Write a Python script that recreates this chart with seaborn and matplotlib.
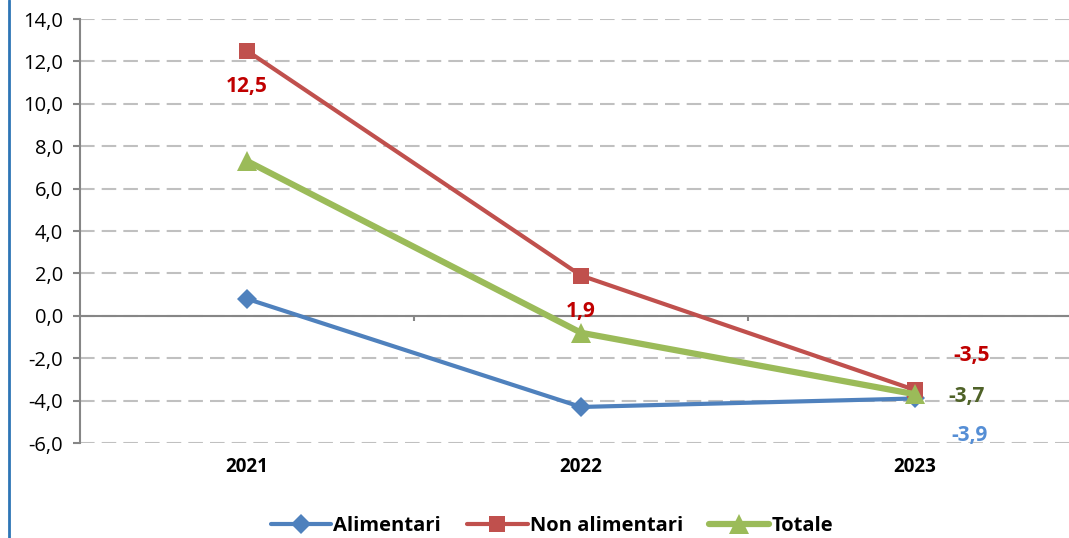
import pandas as pd
import matplotlib.pyplot as plt
import seaborn as sns
from matplotlib.lines import Line2D
from matplotlib.ticker import FuncFormatter

# dati
anni = ['2021', '2022', '2023']
alimentari = [0.8, -4.3, -3.9]
non_alimentari = [12.5, 1.9, -3.5]
totale = [7.3, -0.8, -3.7]

serie = ['Alimentari', 'Non alimentari', 'Totale']
colori = {'Alimentari': '#4F81BD', 'Non alimentari': '#C0504D', 'Totale': '#9BBB59'}
marker = {'Alimentari': 'D', 'Non alimentari': 's', 'Totale': '^'}
msize = {'Alimentari': 10, 'Non alimentari': 12, 'Totale': 14}
spessore = {'Alimentari': 3, 'Non alimentari': 3, 'Totale': 4.5}
colori_etichette = {'Alimentari': '#558ED5', 'Non alimentari': '#C00000', 'Totale': '#4F6228'}

df = pd.DataFrame({
    'Anno': anni * 3,
    'Valore': alimentari + non_alimentari + totale,
    'Serie': [s for s in serie for _ in anni],
})

sns.set_style('white')
plt.rcParams['font.family'] = ['Open Sans', 'DejaVu Sans']
plt.rcParams['text.color'] = 'black'
plt.rcParams['xtick.labelcolor'] = 'black'
plt.rcParams['ytick.labelcolor'] = 'black'

fig = plt.figure(figsize=(10.69, 5.38), dpi=100)
ax = fig.add_axes([80 / 1069, 1 - 443 / 538, 1002 / 1069, 424 / 538])

for s in serie:
    sns.lineplot(data=df[df['Serie'] == s], x='Anno', y='Valore', ax=ax,
                 color=colori[s], linewidth=spessore[s], marker=marker[s],
                 markersize=msize[s], markeredgewidth=0, label=s)

ax.set_xlim(-0.5, 2.5)
ax.set_ylim(-6, 14)
ax.set_yticks(range(-6, 15, 2))
ax.yaxis.set_major_formatter(FuncFormatter(lambda v, p: f'{v:.1f}'.replace('.', ',')))
ax.grid(axis='y', color='#C0C0C0', linestyle=(0, (7, 3.4)), linewidth=1.5)
ax.set_axisbelow(True)
ax.axhline(0, color='#868686', linewidth=1.5, zorder=1)
ax.vlines([0.5, 1.5], -0.25, 0, color='#868686', linewidth=1.5, zorder=1)

for lato in ['top', 'right', 'bottom']:
    ax.spines[lato].set_visible(False)
ax.spines['left'].set_color('#868686')
ax.spines['left'].set_linewidth(1.5)
ax.tick_params(axis='y', left=True, length=5, width=1.5, color='#868686',
               labelsize=14.5, pad=7, labelcolor='black')
ax.tick_params(axis='x', length=0, labelsize=13.5, pad=10, labelcolor='black')
for t in ax.get_xticklabels():
    t.set_fontweight('bold')
ax.set_xlabel('')
ax.set_ylabel('')

# etichette dei valori
def etichetta(s, i, dx, dy):
    v = df[(df['Serie'] == s) & (df['Anno'] == anni[i])]['Valore'].iloc[0]
    ax.annotate(f'{v:.1f}'.replace('.', ','), (i, v), xytext=(dx, dy),
                textcoords='offset pixels', ha='center', va='center',
                fontsize=15, fontweight='bold', color=colori_etichette[s])

etichetta('Non alimentari', 0, 0, -36)
etichetta('Non alimentari', 1, 0, -36)
etichetta('Non alimentari', 2, 57, 34)
etichetta('Totale', 2, 52, -2)
etichetta('Alimentari', 2, 55, -37)

handles = [Line2D([], [], color=colori[s], linewidth=spessore[s], marker=marker[s],
                  markersize=msize[s], markeredgewidth=0) for s in serie]
ax.legend(handles, serie, loc='center', bbox_to_anchor=(552 / 1069, 1 - 526 / 538),
          bbox_transform=fig.transFigure, ncol=3, frameon=False, handlelength=3.0,
          handletextpad=0.1, columnspacing=1.3, prop={'size': 14.5, 'weight': 'bold'})

# bordo sinistro
fig.add_artist(Line2D([8.5 / 1069, 8.5 / 1069], [0, 1], color='#2E75B6', linewidth=2,
                      transform=fig.transFigure))

plt.savefig('out.png', dpi=100)
